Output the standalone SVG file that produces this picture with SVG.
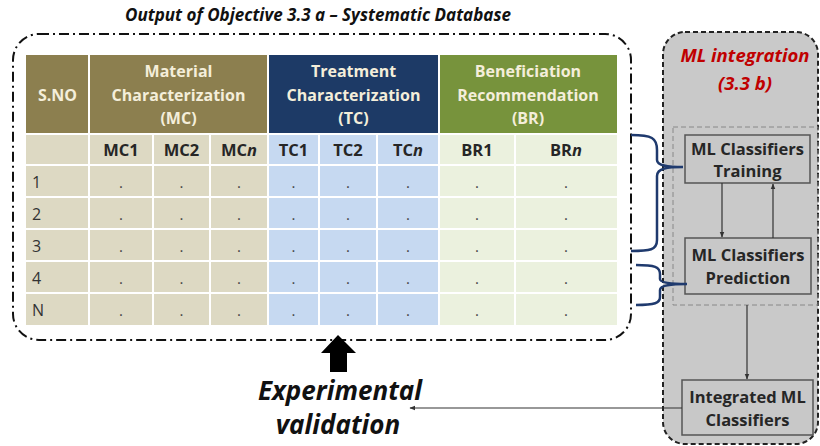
<svg xmlns="http://www.w3.org/2000/svg" width="820" height="446" viewBox="0 0 820 446">
<defs>
<marker id="ah" viewBox="0 0 10 10" refX="9" refY="5" markerWidth="5" markerHeight="5" orient="auto-start-reverse"><path d="M0,1 L10,5 L0,9 z" fill="#333"/></marker>
</defs>
<style>
text{font-family:"Open Sans","Liberation Sans",sans-serif}
.hd{font-size:16px;font-weight:bold;fill:#F4EEDA;text-anchor:middle}
.sh{font-size:16.5px;font-weight:bold;fill:#262626;text-anchor:middle}
.rn{font-size:16px;fill:#333}
.dt{font-size:15px;fill:#444;text-anchor:middle}
.bx{fill:#C8C8C8;stroke:#555;stroke-width:1.5}
.bt{font-size:16.5px;font-weight:bold;fill:#262626;text-anchor:middle}
.sep{stroke:#fff;stroke-width:2}
.brace{fill:none;stroke:#1F3A6E;stroke-width:2.5}
.ln{stroke:#333;stroke-width:1.2;fill:none}
</style>
<rect width="820" height="446" fill="#fff"/>
<text x="318" y="21" font-size="17" font-weight="bold" font-style="italic" fill="#111" text-anchor="middle">Output of Objective 3.3 a – Systematic Database</text>

<g id="database">
<rect x="13" y="34" width="618" height="306" rx="26" fill="#fff" stroke="#111" stroke-width="2" stroke-dasharray="10,4,2,4"/>
<rect x="26" y="55" width="63" height="78" fill="#8C7F4F"/>
<rect x="89" y="55" width="179" height="78" fill="#8C7F4F"/>
<rect x="268" y="55" width="171" height="78" fill="#1D3A66"/>
<rect x="439" y="55" width="178" height="78" fill="#77933C"/>
<rect x="26" y="133" width="242" height="192" fill="#DDD9C3"/>
<rect x="268" y="133" width="171" height="192" fill="#C6D9F1"/>
<rect x="439" y="133" width="178" height="192" fill="#EBF1DE"/>
<g class="sep">
<line x1="26" y1="134" x2="617" y2="134"/>
<line x1="26" y1="165" x2="617" y2="165"/>
<line x1="26" y1="197" x2="617" y2="197"/>
<line x1="26" y1="229" x2="617" y2="229"/>
<line x1="26" y1="261" x2="617" y2="261"/>
<line x1="26" y1="293" x2="617" y2="293"/>
<line x1="89" y1="55" x2="89" y2="325"/>
<line x1="268" y1="55" x2="268" y2="325"/>
<line x1="439" y1="55" x2="439" y2="325"/>
<line x1="153" y1="134" x2="153" y2="325"/>
<line x1="210" y1="134" x2="210" y2="325"/>
<line x1="319" y1="134" x2="319" y2="325"/>
<line x1="377" y1="134" x2="377" y2="325"/>
<line x1="515" y1="134" x2="515" y2="325"/>
</g>
<text class="hd" x="57.5" y="101">S.NO</text>
<text class="hd" x="178.5" y="77">Material</text>
<text class="hd" x="178.5" y="101">Characterization</text>
<text class="hd" x="178.5" y="124">(MC)</text>
<text class="hd" x="353.5" y="77">Treatment</text>
<text class="hd" x="353.5" y="101">Characterization</text>
<text class="hd" x="353.5" y="124">(TC)</text>
<text class="hd" x="528" y="77">Beneficiation</text>
<text class="hd" x="528" y="101">Recommendation</text>
<text class="hd" x="528" y="124">(BR)</text>
<text class="sh" x="121" y="156">MC1</text>
<text class="sh" x="181.5" y="156">MC2</text>
<text class="sh" x="239" y="156">MC<tspan font-style="italic">n</tspan></text>
<text class="sh" x="293.5" y="156">TC1</text>
<text class="sh" x="348" y="156">TC2</text>
<text class="sh" x="408" y="156">TC<tspan font-style="italic">n</tspan></text>
<text class="sh" x="477" y="156">BR1</text>
<text class="sh" x="566" y="156">BR<tspan font-style="italic">n</tspan></text>
<text class="rn" x="32" y="188">1</text>
<text class="rn" x="32" y="220">2</text>
<text class="rn" x="32" y="252">3</text>
<text class="rn" x="32" y="284">4</text>
<text class="rn" x="32" y="316">N</text>
<g class="dt">
<text x="121" y="188">.</text><text x="181.5" y="188">.</text><text x="239" y="188">.</text><text x="293.5" y="188">.</text><text x="348" y="188">.</text><text x="408" y="188">.</text><text x="477" y="188">.</text><text x="566" y="188">.</text>
<text x="121" y="220">.</text><text x="181.5" y="220">.</text><text x="239" y="220">.</text><text x="293.5" y="220">.</text><text x="348" y="220">.</text><text x="408" y="220">.</text><text x="477" y="220">.</text><text x="566" y="220">.</text>
<text x="121" y="252">.</text><text x="181.5" y="252">.</text><text x="239" y="252">.</text><text x="293.5" y="252">.</text><text x="348" y="252">.</text><text x="408" y="252">.</text><text x="477" y="252">.</text><text x="566" y="252">.</text>
<text x="121" y="284">.</text><text x="181.5" y="284">.</text><text x="239" y="284">.</text><text x="293.5" y="284">.</text><text x="348" y="284">.</text><text x="408" y="284">.</text><text x="477" y="284">.</text><text x="566" y="284">.</text>
<text x="121" y="316">.</text><text x="181.5" y="316">.</text><text x="239" y="316">.</text><text x="293.5" y="316">.</text><text x="348" y="316">.</text><text x="408" y="316">.</text><text x="477" y="316">.</text><text x="566" y="316">.</text>
</g>
</g>

<g id="ml-integration">
<rect x="663" y="32" width="155" height="412" rx="22" fill="#C9C9C9" stroke="#222" stroke-width="2" stroke-dasharray="5,3"/>
<text x="745" y="62" font-size="18.5" font-weight="bold" font-style="italic" fill="#C00000" text-anchor="middle">ML integration</text>
<text x="745" y="90" font-size="18.5" font-weight="bold" font-style="italic" fill="#C00000" text-anchor="middle">(3.3 b)</text>
<rect x="673" y="127" width="145" height="178" fill="none" stroke="#888" stroke-width="1" stroke-dasharray="5,3"/>
</g>
<g id="training">
<rect class="bx" x="685" y="135" width="125" height="48"/>
<text class="bt" x="747.5" y="155" font-size="16">ML Classifiers</text>
<text class="bt" x="747.5" y="177" font-size="16">Training</text>
</g>
<g id="prediction">
<rect class="bx" x="685" y="238" width="126" height="56"/>
<text class="bt" x="748" y="261">ML Classifiers</text>
<text class="bt" x="748" y="284">Prediction</text>
</g>
<g id="integrated">
<rect class="bx" x="682" y="380" width="131" height="55"/>
<text class="bt" x="747.5" y="403">Integrated ML</text>
<text class="bt" x="747.5" y="426">Classifiers</text>
</g>
<g id="experimental">
<path d="M338,335 L356,353 L347,353 L347,372 L330,372 L330,353 L321,353 Z" fill="#000"/>
<text x="340" y="400" font-size="26" font-weight="bold" font-style="italic" fill="#111" text-anchor="middle">Experimental</text>
<text x="338" y="434" font-size="26" font-weight="bold" font-style="italic" fill="#111" text-anchor="middle">validation</text>
</g>

<g id="connectors">
<line class="ln" x1="722" y1="183" x2="722" y2="237" marker-end="url(#ah)"/>
<line class="ln" x1="773" y1="238" x2="773" y2="184" marker-end="url(#ah)"/>
<line class="ln" x1="747" y1="305" x2="747" y2="379" marker-end="url(#ah)"/>
<line class="ln" x1="682" y1="408" x2="410" y2="408" marker-end="url(#ah)"/>
<path class="brace" d="M631,135 C652,135 657,138 657,150 L657,160 C657,166 668,167 683,167 C668,167 657,168 657,176 L657,240 C657,250 650,251 631,251"/>
<path class="brace" d="M636,265 C655,265 660,267 660,274 L660,279 C660,283 672,284 687,284 C672,284 660,285 660,290 L660,297 C660,303 655,305 636,305"/>
</g>
</svg>
